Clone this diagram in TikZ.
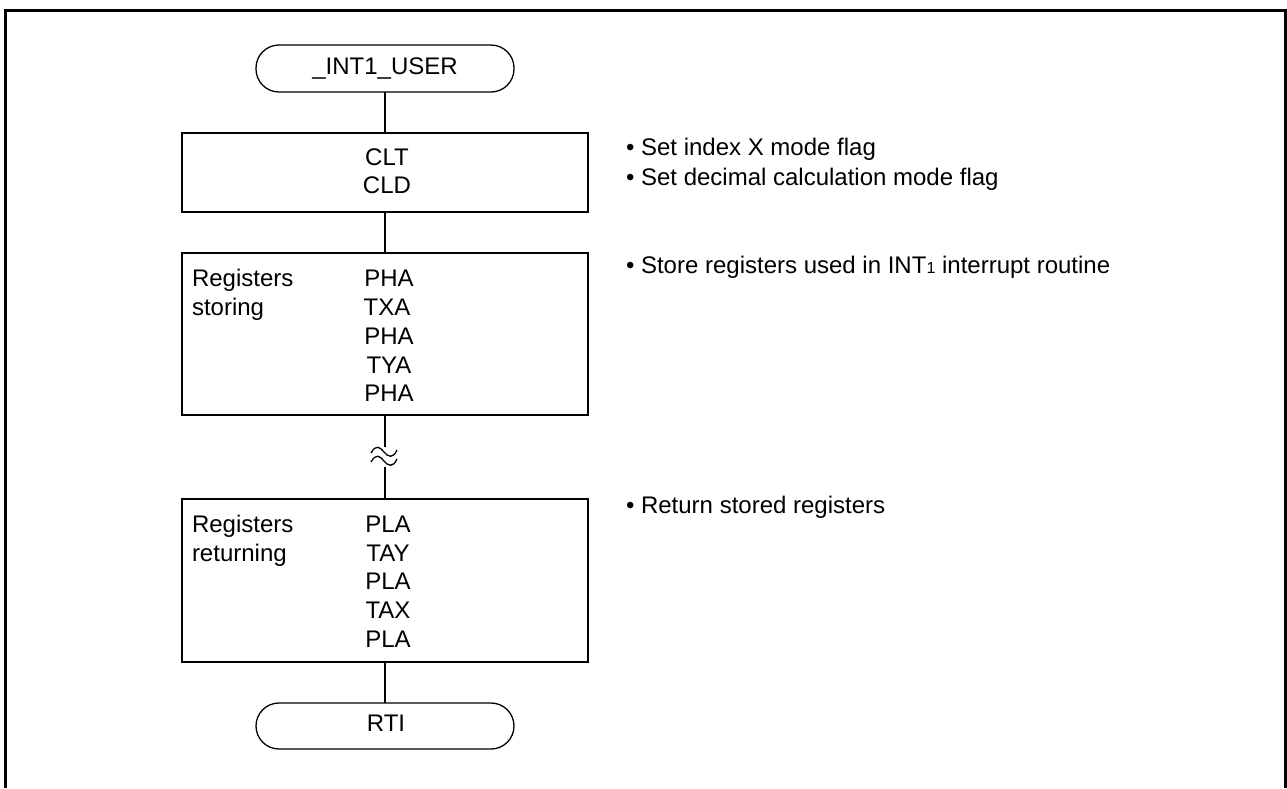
\documentclass[tikz,border=0pt]{standalone}
\usepackage{fontspec}
\setmainfont{Liberation Sans}
\begin{document}
\begin{tikzpicture}[x=1pt,y=-1pt,
  every node/.style={inner sep=0pt, outer sep=0pt, font=\fontsize{24}{29}\selectfont},
  term/.style={draw, line width=1.3pt, rounded corners=23pt, minimum width=258pt, minimum height=47pt},
  proc/.style={draw, line width=1.3pt, minimum width=406pt},
  lbl/.style={anchor=base},
  lft/.style={anchor=base west},
  note/.style={anchor=base west},
  flow/.style={line width=1.3pt}]
\useasboundingbox (0,0) rectangle (1287,788);
\draw[line width=3pt] (5,788) -- (5,10) -- (1285,10) -- (1285,788);

% shapes
\node[term] (t1) at (385,68.5) {};
\node[proc, minimum height=79pt] (b1) at (385,172.5) {};
\node[proc, minimum height=162pt] (b2) at (385,334) {};
\node[proc, minimum height=163pt] (b3) at (385,580.5) {};
\node[term, minimum height=46pt] (t2) at (385,726) {};

\coordinate (brk1) at (385,447);
\coordinate (brk2) at (385,467);

% connectors
\draw[flow] (t1.south) -- (b1.north);
\draw[flow] (b1.south) -- (b2.north);
\draw[flow] (b2.south) -- (brk1);
\draw[flow] (brk2) -- (b3.north);
\draw[flow] (b3.south) -- (t2.north);

% break marks
\draw[flow] (371,453) .. controls (376,444) and (380,447) .. (384,452) .. controls (388,457) and (393,459) .. (397,450);
\draw[flow] (371,462) .. controls (376,453) and (380,456) .. (384,461) .. controls (388,466) and (393,468) .. (397,459);

% texts in shapes
\node[lbl] (t1txt) at (385,74) {\_INT1\_USER};
\node[lbl] (clt) at (387,165) {CLT};
\node[lbl] (cld) at (387,193) {CLD};

\node[lft] (rs1) at (192,286) {Registers};
\node[lft] (rs2) at (192,315) {storing};
\node[lbl] (s1) at (389,286) {PHA};
\node[lbl] (s2) at (387,315) {TXA};
\node[lbl] (s3) at (389,344) {PHA};
\node[lbl] (s4) at (389,373) {TYA};
\node[lbl] (s5) at (389,401.5) {PHA};

\node[lft] (rr1) at (192,532) {Registers};
\node[lft] (rr2) at (192,561) {returning};
\node[lbl] (r1) at (388,532) {PLA};
\node[lbl] (r2) at (388,561) {TAY};
\node[lbl] (r3) at (388,589.5) {PLA};
\node[lbl] (r4) at (388,618) {TAX};
\node[lbl] (r5) at (388,647) {PLA};

\node[lbl] (t2txt) at (386,731) {RTI};

% notes
\node[note] (n1) at (626,155) {• Set index X mode flag};
\node[note] (n2) at (626,185) {• Set decimal calculation mode flag};
\node[note] (n3) at (626,273) {• Store registers used in INT{\fontsize{16}{16}\selectfont 1} interrupt routine};
\node[note] (n4) at (626,513) {• Return stored registers};
\end{tikzpicture}
\end{document}
